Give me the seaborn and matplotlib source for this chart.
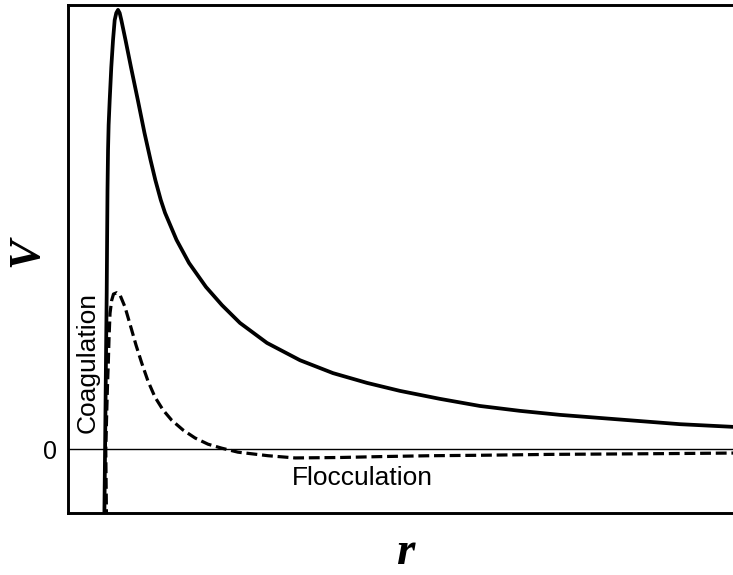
import matplotlib
matplotlib.use("Agg")
import matplotlib.pyplot as plt
import seaborn as sns
import pandas as pd

# Interaction energy V against separation r (arbitrary units)
r_high = [0.546, 0.559, 0.571, 0.582, 0.588, 0.594, 0.602, 0.611, 0.627, 0.651,
          0.677, 0.702, 0.726, 0.752, 0.777, 0.802, 0.865, 0.947, 1.050, 1.150,
          1.241, 1.313, 1.395, 1.459, 1.632, 1.820, 2.075, 2.316, 2.586, 2.992,
          3.489, 3.985, 4.496, 4.992, 5.594, 6.195, 6.797, 7.398, 8.000, 8.602,
          9.203, 10.0]
v_high = [-1.60, 0.20, 2.00, 3.51, 4.71, 5.83, 6.73, 7.30, 7.86, 8.60,
          9.21, 9.66, 9.82, 9.89, 9.82, 9.66, 9.21, 8.60, 7.86, 7.12,
          6.51, 6.06, 5.61, 5.32, 4.71, 4.19, 3.65, 3.24, 2.84, 2.39,
          2.00, 1.71, 1.49, 1.31, 1.13, 0.97, 0.86, 0.77, 0.70, 0.63,
          0.56, 0.50]

r_low = [0.579, 0.568, 0.582, 0.594, 0.606, 0.617, 0.632, 0.657, 0.684, 0.732,
         0.782, 0.857, 0.958, 1.023, 1.108, 1.203, 1.308, 1.429, 1.559, 1.729,
         1.910, 2.105, 2.311, 2.556, 3.008, 3.414, 4.090, 4.692, 5.444, 6.195,
         7.248, 8.301, 9.203, 10.0]
v_low = [-1.60, -0.02, 0.81, 1.44, 1.94, 2.50, 3.06, 3.35, 3.49, 3.52,
         3.47, 3.20, 2.68, 2.34, 1.94, 1.53, 1.17, 0.88, 0.65, 0.43,
         0.25, 0.11, 0.02, -0.07, -0.15, -0.20, -0.19, -0.17, -0.15, -0.14,
         -0.12, -0.11, -0.10, -0.09]

y_ticks = [0]
y_tick_labels = ["0"]

sns.set_style("white")
plt.rcParams["font.family"] = ["Liberation Sans", "DejaVu Sans"]
for key in ["text.color", "axes.labelcolor", "xtick.color", "ytick.color"]:
    plt.rcParams[key] = "black"

W, H = 733, 575
fig = plt.figure(figsize=(W / 100, H / 100), dpi=100)
ax = fig.add_axes([68 / W, (H - 513) / H, 1 - 68 / W, (513 - 5) / H])

high = pd.DataFrame({"r": r_high, "V": v_high})
low = pd.DataFrame({"r": r_low, "V": v_low})

sns.lineplot(data=high, x="r", y="V", ax=ax, color="black", lw=2.7,
             sort=False, estimator=None, solid_joinstyle="round")
sns.lineplot(data=low, x="r", y="V", ax=ax, color="black", lw=2.3,
             sort=False, estimator=None, linestyle=(0, (3.4, 1.5)))
ax.axhline(0, color="black", lw=1.0, zorder=1)

ax.set_xlim(0, 10)
ax.set_ylim(-1.44, 10)

for side in ["left", "top", "bottom"]:
    ax.spines[side].set_linewidth(2.1)
    ax.spines[side].set_color("black")
ax.spines["right"].set_visible(False)

ax.set_xticks([])
ax.set_yticks(y_ticks)
ax.set_yticklabels(y_tick_labels, fontsize=18)
ax.tick_params(axis="y", length=0, pad=8)
ax.set_xlabel("")
ax.set_ylabel("")

ax.text(0.29, 1.94, "Coagulation", rotation=90, ha="center", va="center",
        fontsize=19)
ax.text(4.43, -0.66, "Flocculation", ha="center", va="center", fontsize=19)

fig.text(405 / W, 1 - 574 / H, "r", ha="center", va="bottom",
         fontsize=34, family="Liberation Serif", style="italic", weight="bold")
fig.text(26 / W, 1 - 252 / H, "V", ha="center", va="center", rotation=90,
         fontsize=32, family="Liberation Serif", style="italic", weight="bold")

fig.savefig("out.png", dpi=100)
